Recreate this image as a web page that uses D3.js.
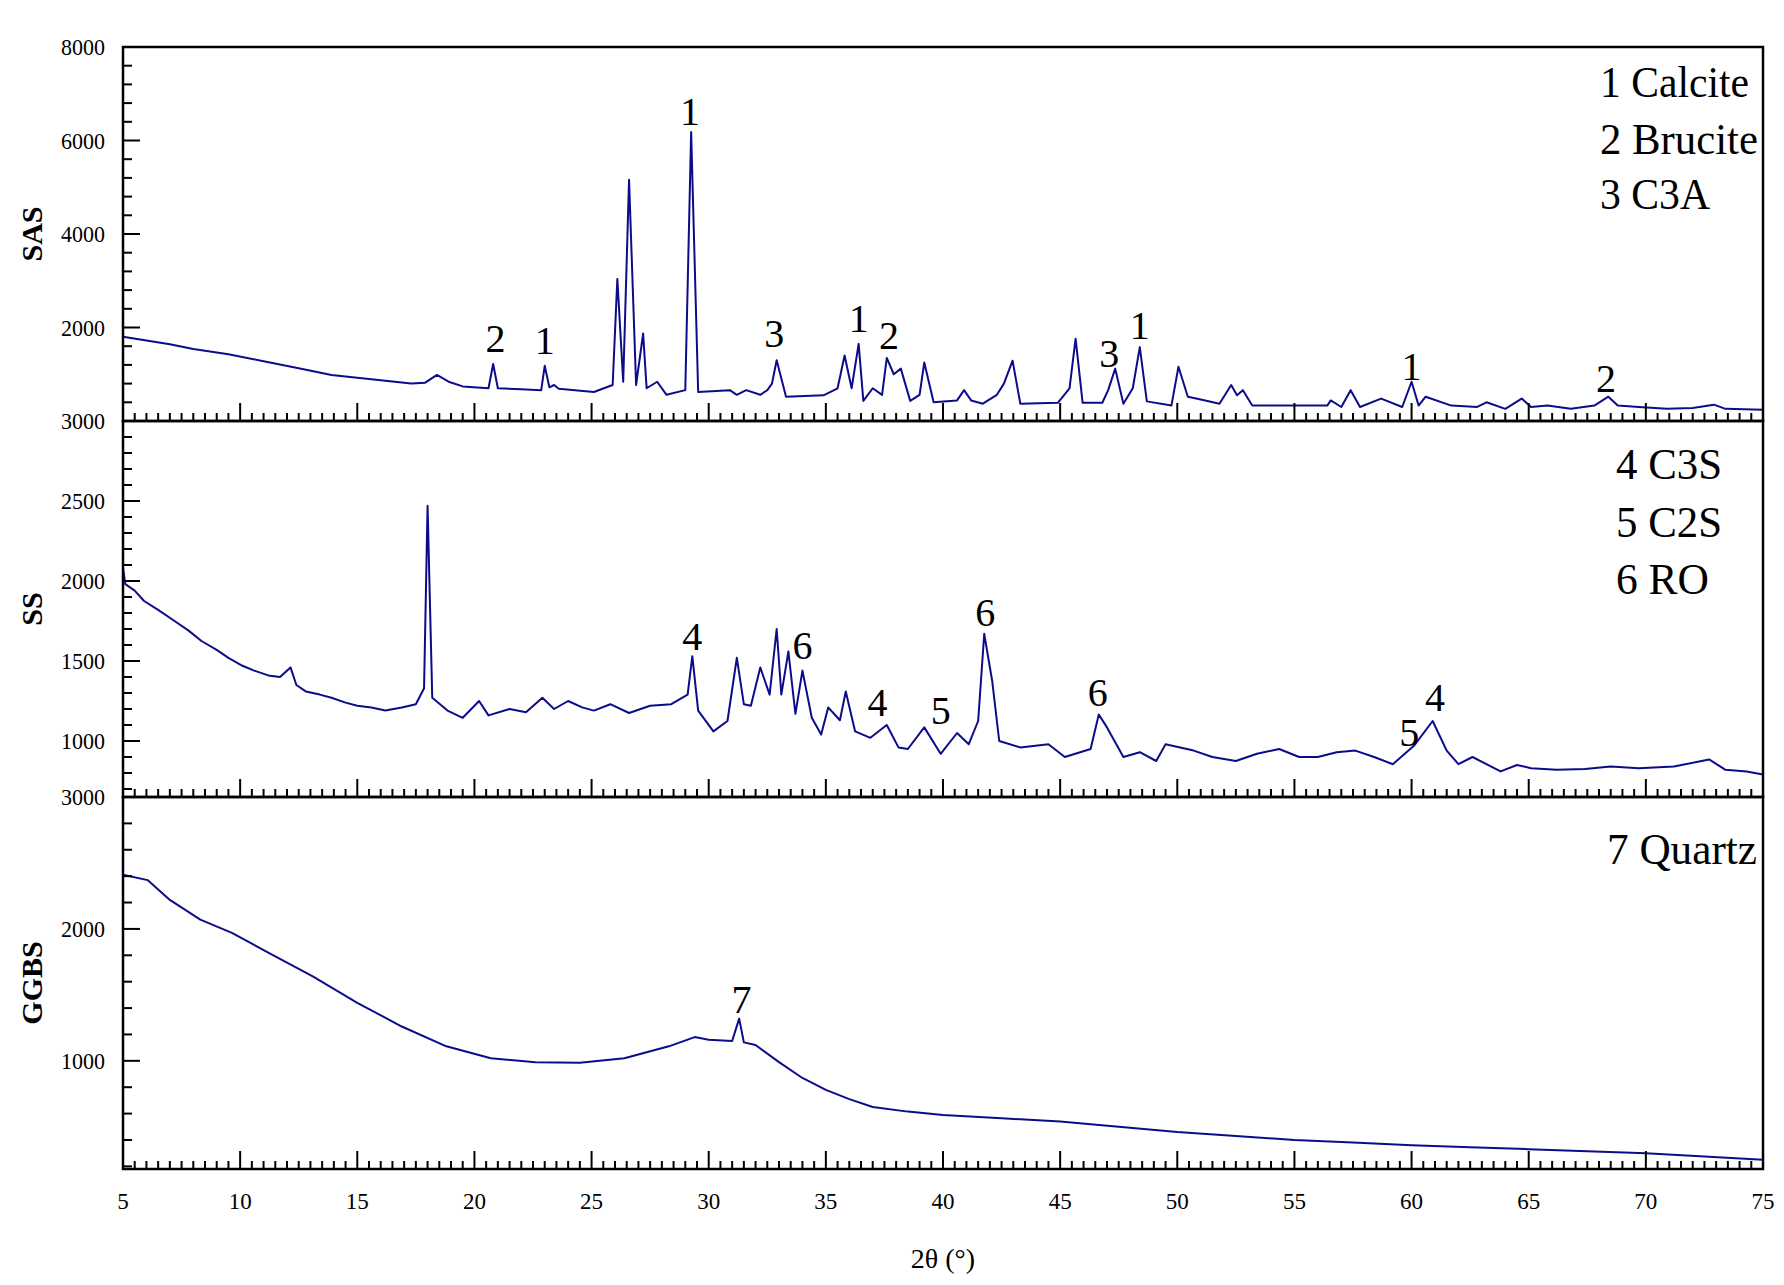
<!DOCTYPE html>
<html>
<head>
<meta charset="utf-8">
<script src="https://cdn.jsdelivr.net/npm/d3@7"></script>
<style>
body{margin:0;background:#fff;}
text{font-family:"Liberation Serif",Tinos,"Nimbus Roman","DejaVu Serif",serif;fill:#000;}
</style>
</head>
<body>
<svg class="plot" width="1784" height="1285"></svg>
<script>
// [2theta, intensity]
var sasData=[[5,1800],[6,1720],[7,1640],[8,1540],[9.5,1430],[11,1280],[12.5,1130],[13.9,985],[15.5,900],[17.3,800],[17.9,820],[18.4,985],[18.9,840],[19.5,740],[20.6,700],[20.8,1220],[21,700],[22,680],[22.85,660],[23,1180],[23.2,720],[23.4,770],[23.6,690],[25.1,620],[25.9,770],[26.1,3040],[26.35,840],[26.6,5160],[26.9,770],[27.2,1870],[27.35,700],[27.8,840],[28.2,560],[29,660],[29.25,6180],[29.55,620],[30.9,660],[31.2,560],[31.6,660],[32.2,560],[32.5,660],[32.7,800],[32.9,1300],[33.3,520],[34.9,550],[35.5,700],[35.8,1400],[36.1,700],[36.4,1650],[36.6,430],[37,700],[37.4,560],[37.6,1350],[37.9,1000],[38.2,1120],[38.6,430],[39,560],[39.2,1250],[39.6,400],[40.6,440],[40.9,660],[41.2,440],[41.7,370],[42.3,560],[42.6,800],[42.97,1290],[43.3,370],[44.9,390],[45.4,700],[45.66,1760],[45.96,390],[46.8,390],[47.05,660],[47.35,1120],[47.7,370],[48.1,700],[48.4,1580],[48.7,420],[49.75,330],[50.05,1160],[50.45,520],[51.1,450],[51.8,370],[52.3,770],[52.55,550],[52.8,660],[53.2,330],[54.8,330],[56.4,330],[56.55,440],[57,300],[57.4,660],[57.8,300],[58.7,480],[59.6,300],[60,840],[60.3,330],[60.6,520],[61.7,330],[62.8,300],[63.2,400],[64,260],[64.7,480],[65.1,300],[65.8,330],[66.8,260],[67.8,330],[68.4,520],[68.8,330],[69.7,300],[70.9,260],[72,280],[72.9,350],[73.4,260],[75,240]];
var ssData=[[5,2080],[5.1,1980],[5.5,1940],[5.9,1875],[6.5,1820],[7.2,1750],[7.8,1690],[8.35,1625],[9,1570],[9.5,1520],[10.1,1470],[10.6,1440],[11.2,1410],[11.7,1400],[12.15,1460],[12.4,1350],[12.8,1310],[13.4,1290],[13.9,1270],[14.5,1240],[15,1220],[15.6,1210],[16.2,1190],[16.9,1210],[17.5,1230],[17.85,1330],[18,2470],[18.2,1270],[18.85,1190],[19.5,1145],[20.2,1250],[20.6,1160],[21.5,1200],[22.2,1180],[22.9,1270],[23.4,1200],[24,1250],[24.6,1210],[25.1,1190],[25.8,1230],[26.6,1175],[27.5,1220],[28.4,1230],[29.1,1290],[29.3,1530],[29.55,1190],[30.2,1060],[30.8,1125],[31.2,1520],[31.5,1230],[31.8,1220],[32.2,1460],[32.6,1290],[32.9,1700],[33.1,1290],[33.4,1560],[33.7,1170],[34,1440],[34.4,1145],[34.8,1040],[35.1,1210],[35.6,1130],[35.85,1310],[36.25,1060],[36.9,1020],[37.6,1100],[38.1,960],[38.5,950],[39.2,1085],[39.9,920],[40.6,1050],[41.1,980],[41.5,1125],[41.76,1670],[42.1,1375],[42.4,1000],[43.3,960],[44.5,980],[45.2,900],[46.3,950],[46.65,1165],[47,1085],[47.7,900],[48.4,930],[49.1,875],[49.5,980],[50.7,940],[51.5,900],[52.5,875],[53.4,920],[54.35,950],[55.2,900],[56,900],[56.8,930],[57.6,940],[58.4,900],[59.2,855],[60.1,970],[60.9,1125],[61.5,940],[62,855],[62.6,900],[63.8,810],[64.5,850],[65.1,830],[66.2,820],[67.4,825],[68.5,840],[69.7,830],[71.2,840],[72.7,885],[73.4,820],[74.3,810],[75,790]];
var ggbsData=[[5,2410],[6.05,2370],[7,2220],[8.3,2070],[9.65,1970],[11.2,1820],[13.1,1640],[15,1440],[16.9,1260],[18.8,1110],[20.7,1020],[22.6,990],[24.5,985],[26.4,1020],[28.3,1110],[29.4,1180],[30,1160],[31,1150],[31.3,1320],[31.5,1140],[32,1120],[33,990],[34,870],[35,780],[36,710],[37,650],[38.5,615],[40,590],[42.5,565],[45,540],[47.5,500],[50,460],[52.5,430],[55,400],[57.5,380],[60,360],[62.5,345],[65,330],[67.5,315],[70,300],[72.5,275],[75,250]];

var sasLabels=[["2",20.9,352],["1",23.0,354],["1",29.2,125],["3",32.8,347],["1",36.4,332],["2",37.7,349],["3",47.1,367],["1",48.4,339],["1",60.0,380],["2",68.3,392]];
var ssLabels=[["4",29.3,650],["6",34.0,659],["4",37.2,716],["5",39.9,724],["6",41.8,626],["6",46.6,706],["5",59.9,746],["4",61.0,711]];
var ggbsLabels=[["7",31.4,1013]];

var sasLegend=["1 Calcite","2 Brucite","3 C3A"];
var ssLegend=["4 C3S","5 C2S","6 RO"];
var ggbsLegend=["7 Quartz"];

var xTicks=[5,10,15,20,25,30,35,40,45,50,55,60,65,70,75];

var svg=d3.select("svg.plot");
var left=123,right=1763;
var xscale=d3.scaleLinear().domain([5,75]).range([left,right]);

var panels=[
  {name:"SAS",data:sasData,top:47,bottom:421,domain:[0,8000],major:[2000,4000,6000,8000],minorStep:400,labels:sasLabels,legend:sasLegend,legendX:1600,legendY:[97,154,209],legendW:[149,158,110]},
  {name:"SS",data:ssData,top:421,bottom:797,domain:[650,3000],major:[1000,1500,2000,2500,3000],minorStep:100,labels:ssLabels,legend:ssLegend,legendX:1616,legendY:[479,537,594],legendW:[106,106,93]},
  {name:"GGBS",data:ggbsData,top:797,bottom:1169,domain:[180,3000],major:[1000,2000,3000],minorStep:200,labels:ggbsLabels,legend:ggbsLegend,legendX:1607,legendY:[864],legendW:[150]}
];

panels.forEach(function(p){
  var yscale=d3.scaleLinear().domain(p.domain).range([p.bottom,p.top]);
  var g=svg.append("g");
  var line=d3.line()
             .x(function(d){return xscale(d[0]);})
             .y(function(d){return yscale(d[1]);});
  g.append("path")
   .datum(p.data)
   .attr("d",line)
   .attr("fill","none")
   .attr("stroke","#0c0c8a")
   .attr("stroke-width",2)
   .attr("stroke-linejoin","round");

  // minor y ticks, inward
  var minors=d3.range(Math.ceil(p.domain[0]/p.minorStep)*p.minorStep,p.domain[1]+1,p.minorStep)
               .filter(function(v){return p.major.indexOf(v)<0;});
  g.selectAll("line.ymin").data(minors).enter().append("line")
   .attr("x1",left).attr("x2",left+9)
   .attr("y1",function(d){return yscale(d);}).attr("y2",function(d){return yscale(d);})
   .attr("stroke","#000").attr("stroke-width",2);
  g.selectAll("line.ymaj").data(p.major).enter().append("line")
   .attr("x1",left).attr("x2",left+17)
   .attr("y1",function(d){return yscale(d);}).attr("y2",function(d){return yscale(d);})
   .attr("stroke","#000").attr("stroke-width",2);
  g.selectAll("text.ylab").data(p.major).enter().append("text")
   .attr("x",105).attr("y",function(d){return yscale(d)+8;})
   .attr("text-anchor","end").attr("font-size",23)
   .attr("textLength",44).attr("lengthAdjust","spacingAndGlyphs")
   .text(function(d){return d;});

  // x ticks at panel bottom, inward
  var xmin=d3.range(5,75.01,0.5).filter(function(v){return v%5!==0;});
  g.selectAll("line.xmin").data(xmin).enter().append("line")
   .attr("x1",function(d){return xscale(d);}).attr("x2",function(d){return xscale(d);})
   .attr("y1",p.bottom).attr("y2",p.bottom-8)
   .attr("stroke","#000").attr("stroke-width",2);
  g.selectAll("line.xmaj").data(xTicks).enter().append("line")
   .attr("x1",function(d){return xscale(d);}).attr("x2",function(d){return xscale(d);})
   .attr("y1",p.bottom).attr("y2",p.bottom-18)
   .attr("stroke","#000").attr("stroke-width",2);

  g.append("rect")
   .attr("x",left).attr("y",p.top)
   .attr("width",right-left).attr("height",p.bottom-p.top)
   .attr("fill","none").attr("stroke","#000").attr("stroke-width",2.5);

  g.selectAll("text.peak").data(p.labels).enter().append("text")
   .attr("x",function(d){return xscale(d[1]);})
   .attr("y",function(d){return d[2];})
   .attr("text-anchor","middle").attr("font-size",40)
   .text(function(d){return d[0];});

  g.selectAll("text.legend").data(p.legend).enter().append("text")
   .attr("x",p.legendX)
   .attr("y",function(d,i){return p.legendY[i];})
   .attr("font-size",44)
   .attr("textLength",function(d,i){return p.legendW[i];})
   .attr("lengthAdjust","spacingAndGlyphs")
   .text(function(d){return d;});

  var cy=(p.top+p.bottom)/2;
  g.append("text")
   .attr("transform","translate(42,"+cy+") rotate(-90)")
   .attr("text-anchor","middle").attr("font-size",30).attr("font-weight","bold")
   .text(p.name);
});

svg.selectAll("text.xlab").data(xTicks).enter().append("text")
   .attr("x",function(d){return xscale(d);}).attr("y",1209)
   .attr("text-anchor","middle").attr("font-size",23)
   .text(function(d){return d;});
svg.append("text")
   .attr("x",(left+right)/2).attr("y",1268)
   .attr("text-anchor","middle").attr("font-size",28)
   .text("2θ (°)");
</script>
</body>
</html>
